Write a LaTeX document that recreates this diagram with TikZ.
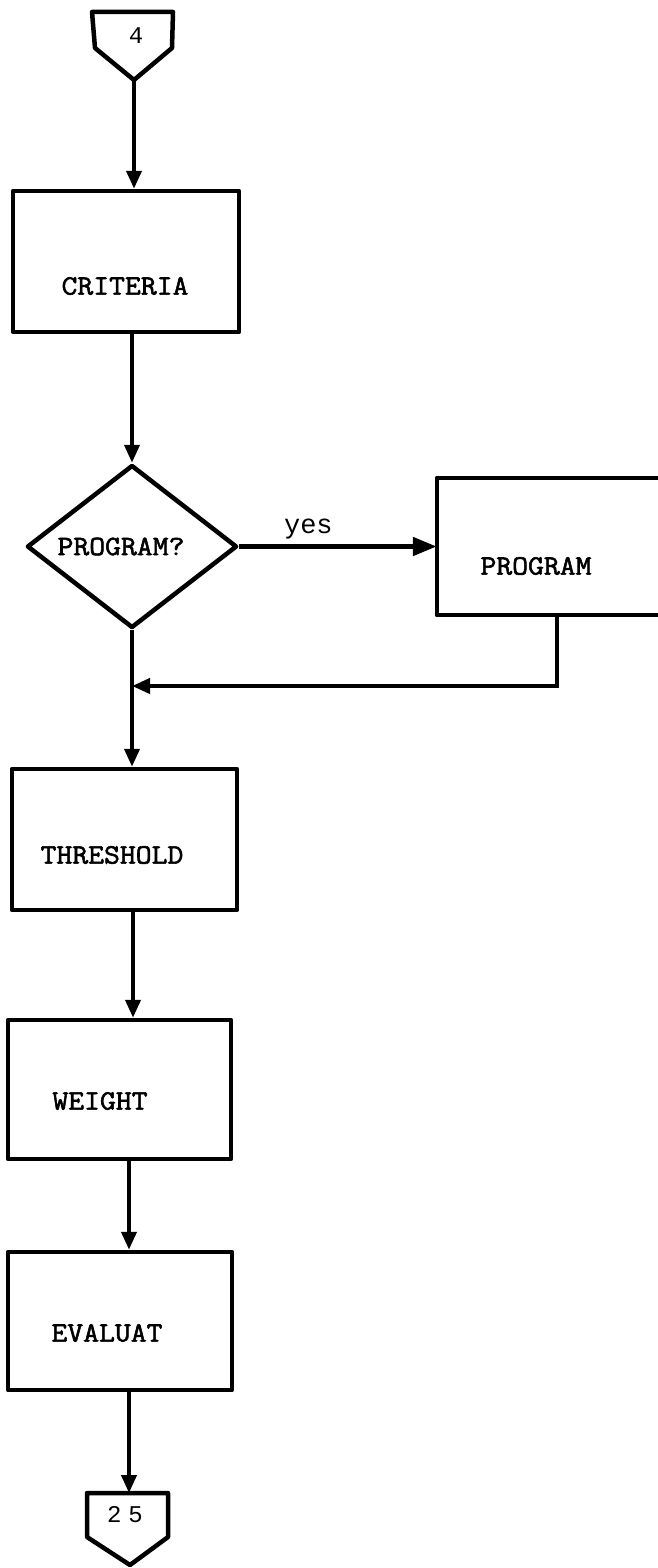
\documentclass[tikz,border=0pt]{standalone}
\usepackage{fontspec}
\usetikzlibrary{arrows.meta,shapes.geometric,calc}
\newfontfamily\tw{Latin Modern Mono}[FakeStretch=1.1,FakeBold=2]
\newfontfamily\lmono{Liberation Mono}

\begin{document}
\begin{tikzpicture}[x=1pt,y=-1pt,
  boxline/.style={line width=4.5pt, line join=round, line cap=round},
  procbox/.style={draw, boxline, inner sep=0pt},
  decision/.style={draw, diamond, boxline, inner sep=0pt, aspect=1.3},
  lbl/.style={font=\tw\fontsize{28}{30}\selectfont, inner sep=0pt},
  numtxt/.style={font=\lmono\fontsize{24}{26}\selectfont, inner sep=0pt},
  yestxt/.style={font=\lmono\fontsize{27}{29}\selectfont, inner sep=0pt},
  flow/.style={line width=4pt, -{Triangle[length=18pt,width=15pt]}},
  boldflow/.style={line width=5pt, -{Triangle[length=24pt,width=18pt]}}
]
\useasboundingbox (0,0) rectangle (657,1568);

% column positions of the main vertical flow
\coordinate (spine) at (133,0);
\coordinate (spinelow) at (129,0);

% off-page connector at the top
\coordinate (c4tip) at (134,80);
\draw[boxline] (92,12) -- (173,12) -- (172,48) -- (c4tip) -- (95,48) -- cycle;
\node[numtxt] (c4) at (136,36) {4};

% process boxes
\node[procbox, minimum width=226pt, minimum height=141pt,
      label={[lbl,xshift=-1pt,yshift=-24.5pt]center:CRITERIA}] (crit) at (126,261.5) {};

\node[decision, minimum width=210pt, minimum height=163pt,
      label={[lbl,xshift=-11pt,yshift=0pt]center:PROGRAM?}] (dia) at (132,546.5) {};

\node[inner sep=0pt, minimum width=233pt, minimum height=137pt,
      label={[lbl,xshift=-17.5pt,yshift=-19.5pt]center:PROGRAM}] (prog) at (553.5,546.5) {};
\draw[boxline] (prog.north east) -- (prog.north west) -- (prog.south west) -- (prog.south east);

\node[procbox, minimum width=225pt, minimum height=141pt,
      label={[lbl,xshift=-12.5pt,yshift=-15.5pt]center:THRESHOLD}] (thr) at (124.5,839.5) {};

\node[procbox, minimum width=223pt, minimum height=139pt,
      label={[lbl,xshift=-19.5pt,yshift=-11.5pt]center:WEIGHT}] (wgt) at (119.5,1089.5) {};

\node[procbox, minimum width=224pt, minimum height=138pt,
      label={[lbl,xshift=-13pt,yshift=-12pt]center:EVALUAT}] (eva) at (120,1321) {};

% off-page connector at the bottom
\coordinate (c25top) at (129,1493);
\draw[boxline] (87,1493) -- (168,1493) -- (168,1537) -- (130,1565) -- (87,1537) -- cycle;
\node[numtxt] (c25) at (125,1515) {2\hspace{7pt}5};

% connectors
\draw[flow] (c4tip) -- (c4tip |- crit.north);
\draw[flow] (dia.north |- crit.south) -- (dia.north);
\draw[boldflow] (dia.east) -- node[yestxt, above=5pt, pos=0.35] {yes} (prog.west |- dia.east);
\coordinate (ret) at (557,686);
\draw[flow] (ret |- prog.south) -- (ret) -- (dia.south |- ret);
\draw[flow] (dia.south) -- (dia.south |- thr.north);
\draw[flow] (spine |- thr.south) -- (spine |- wgt.north);
\draw[flow] (spinelow |- wgt.south) -- (spinelow |- eva.north);
\draw[flow] (spinelow |- eva.south) -- (c25top);
\end{tikzpicture}
\end{document}
